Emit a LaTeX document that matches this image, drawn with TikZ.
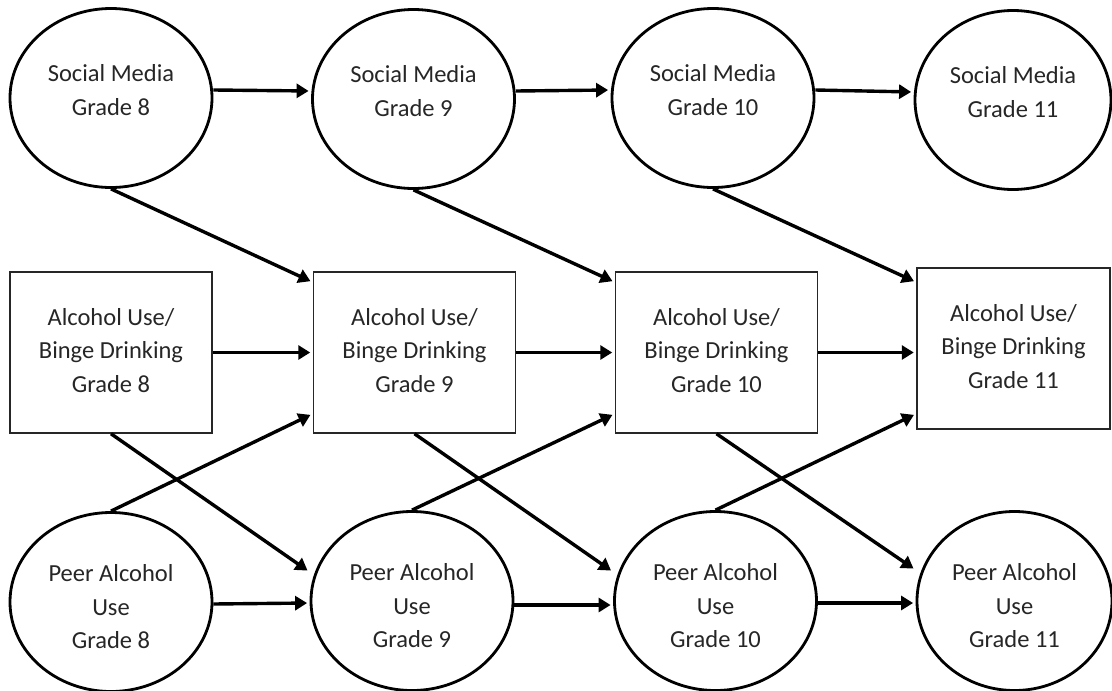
\documentclass[tikz,border=0pt]{standalone}
\usepackage{fontspec}
\setmainfont{Carlito}
\usepackage{tikz}
\usetikzlibrary{shapes}
\usetikzlibrary{arrows.meta}
\usetikzlibrary{calc}

\tikzset{
  every node/.style={font=\fontsize{24.5}{33.5}\selectfont, text=black!85},
  wave/.style={ellipse, draw, line width=2.8pt, minimum width=202pt, minimum height=179pt, inner sep=0pt},
  usebox/.style={rectangle, draw=black!85, line width=1.5pt, minimum width=202pt, minimum height=161pt, inner sep=0pt},
  toplbl/.style={align=center, yshift=8pt},
  boxlbl/.style={align=center, yshift=2pt},
  botlbl/.style={align=center, yshift=-5pt},
  effect/.style={line width=3.4pt, -{Triangle[length=12pt,width=14pt]}, shorten >=2.5pt},
}

\begin{document}
\begin{tikzpicture}[x=1pt,y=-1pt,line cap=butt,line join=miter]
\useasboundingbox (0,0) rectangle (1112,691);
% social media waves
\node[wave, label={[toplbl]center:Social Media\\Grade 8}] (sm8) at (111,98) {};
\node[wave, label={[toplbl]center:Social Media\\Grade 9}] (sm9) at (413.5,99) {};
\node[wave, label={[toplbl]center:Social Media\\Grade 10}] (sm10) at (713,98) {};
\node[wave, minimum width=196pt, label={[toplbl]center:Social Media\\Grade 11}] (sm11) at (1013,100) {};
% alcohol use / binge drinking
\node[usebox, label={[boxlbl]center:Alcohol Use/\\Binge Drinking\\Grade 8}] (ab8) at (111,352.5) {};
\node[usebox, label={[boxlbl]center:Alcohol Use/\\Binge Drinking\\Grade 9}] (ab9) at (414.5,352.5) {};
\node[usebox, label={[boxlbl]center:Alcohol Use/\\Binge Drinking\\Grade 10}] (ab10) at (716.5,352.5) {};
\node[usebox, minimum width=193pt, label={[boxlbl]center:Alcohol Use/\\Binge Drinking\\Grade 11}] (ab11) at (1013.5,348.5) {};
% peer alcohol use
\node[wave, label={[botlbl]center:Peer Alcohol\\Use\\Grade 8}] (pa8) at (111,602) {};
\node[wave, label={[botlbl]center:Peer Alcohol\\Use\\Grade 9}] (pa9) at (412,601) {};
\node[wave, label={[botlbl]center:Peer Alcohol\\Use\\Grade 10}] (pa10) at (715.5,601) {};
\node[wave, minimum width=195pt, label={[botlbl]center:Peer Alcohol\\Use\\Grade 11}] (pa11) at (1014.5,601) {};
% stability paths
\draw[effect] ([yshift=8pt]sm8.east) -- ([yshift=8pt]sm9.west);
\draw[effect] ([yshift=8pt]sm9.east) -- ([yshift=8pt]sm10.west);
\draw[effect] ([yshift=8pt]sm10.east) -- ([yshift=8pt]sm11.west);
\draw[effect] (ab8.east) -- (ab9.west);
\draw[effect] (ab9.east) -- (ab10.west);
\draw[effect] (ab10.east) -- (ab10.east -| ab11.west);
\draw[effect] ([yshift=-2pt]pa8.east) -- ([yshift=-2pt]pa9.west);
\draw[effect] ([yshift=-4pt]pa9.east) -- ([yshift=-4pt]pa10.west);
\draw[effect] ([yshift=-2pt]pa10.east) -- ([yshift=-2pt]pa11.west);
% cross-lagged paths
\draw[effect] (sm8.south) -- ([yshift=-11pt]ab9.north west);
\draw[effect] (sm9.south) -- ([yshift=-11pt]ab10.north west);
\draw[effect] (sm10.south) -- ([yshift=-15pt]ab11.north west);
\draw[effect] (ab8.south) -- ([yshift=29pt]pa9.west);
\draw[effect] (ab9.south) -- ([yshift=29pt]pa10.west);
\draw[effect] (ab10.south) -- ([yshift=31pt]pa11.west);
\draw[effect] (pa8.north) -- ([yshift=20pt]ab9.south west);
\draw[effect] (pa9.north) -- ([yshift=20pt]ab10.south west);
\draw[effect] (pa10.north) -- ([yshift=16pt]ab11.south west);
\end{tikzpicture}
\end{document}
